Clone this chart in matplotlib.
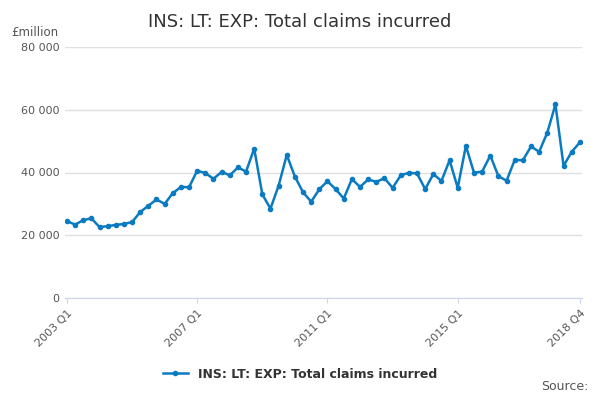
import matplotlib
matplotlib.use("Agg")
import matplotlib.pyplot as plt

values = [24.5,23.4,24.8,25.4,22.6,22.9,23.3,23.6,24.2,27.4,29.4,31.4,30.0,33.4,35.4,35.3,
          40.6,39.8,38.0,40.2,39.1,41.6,40.3,47.6,33.0,28.5,35.8,45.6,38.7,33.7,30.7,34.7,
          37.2,34.7,31.7,37.9,35.4,37.8,37.0,38.2,35.1,39.1,39.9,39.7,34.7,39.5,37.3,43.9,
          35.1,48.5,39.9,40.3,45.4,38.8,37.4,44.0,43.9,48.3,46.6,52.7,61.7,42.1,46.6,49.6]
values = [v*1000 for v in values]
tick_pos = [0, 16, 32, 48, 63]
tick_labels = ["2003 Q1", "2007 Q1", "2011 Q1", "2015 Q1", "2018 Q4"]
yticks = [0, 20000, 40000, 60000, 80000]
ylabels = ["0", "20 000", "40 000", "60 000", "80 000"]

fig = plt.figure(figsize=(6, 4), dpi=100)
ax = fig.add_axes([0.1075, 0.255, 0.863, 0.6275])
c = "#0b7bc1"
ax.plot(range(len(values)), values, color=c, lw=1.8, marker="o", ms=3,
        label="INS: LT: EXP: Total claims incurred")
ax.set_xlim(-0.3, 63.3)
ax.set_ylim(0, 80000)
ax.set_yticks(yticks)
ax.set_yticklabels(ylabels)
ax.set_xticks(tick_pos)
ax.set_xticklabels(tick_labels, rotation=45, ha="right", rotation_mode="anchor")
ax.grid(axis="y", color="#e0e0e0", lw=1)
ax.set_axisbelow(True)
for s in ["top", "right", "left"]:
    ax.spines[s].set_visible(False)
ax.spines["bottom"].set_color("#ccd6eb")
ax.tick_params(axis="y", length=0, labelsize=8, colors="#555555")
ax.tick_params(axis="x", labelsize=8, colors="#555555", color="#ccd6eb")
fig.text(0.5, 0.945, "INS: LT: EXP: Total claims incurred", ha="center", va="center",
         fontsize=13, color="#333333")
fig.text(0.018, 0.92, "£million", fontsize=8.5, color="#555555", va="center")
fig.legend(loc="center", bbox_to_anchor=(0.5, 0.065), frameon=False,
           prop={"size": 9, "weight": "bold"}, labelcolor="#333333")
fig.text(0.98, 0.025, "Source:", ha="right", fontsize=9, color="#555555")
fig.savefig("out.png")
